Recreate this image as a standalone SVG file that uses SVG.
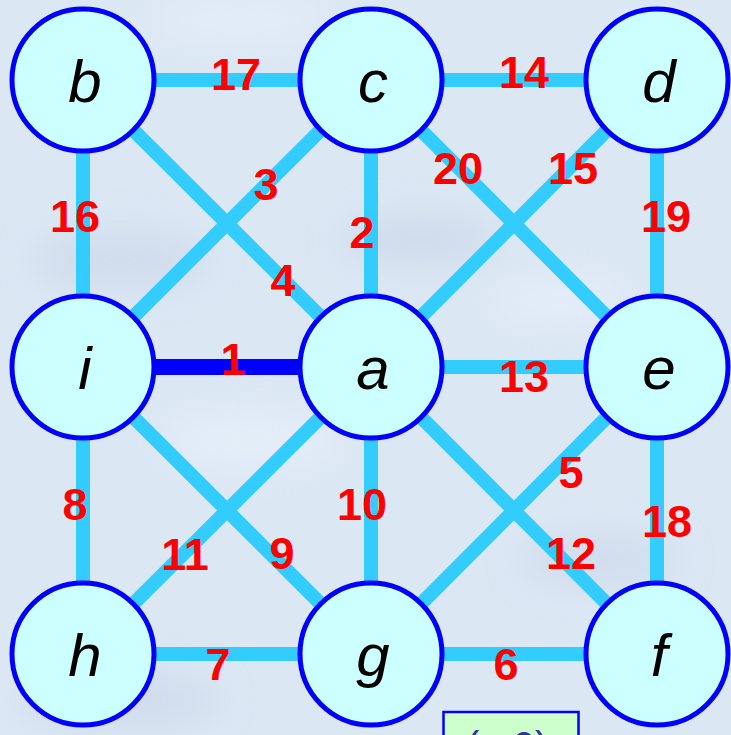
<svg xmlns="http://www.w3.org/2000/svg" width="731" height="735" viewBox="0 0 731 735">
<defs>
<style>
.e{stroke:#33CCFF;stroke-width:14;fill:none}
.h{stroke:#0000FF;stroke-width:16;fill:none}
.n circle,circle.n{fill:#CCFFFF;stroke:#0000FF;stroke-width:5}
.lt{font-family:"Liberation Sans",Arial,sans-serif;font-style:italic;font-size:60px;fill:#000;text-anchor:middle}
.w{font-family:"Liberation Sans",Arial,sans-serif;font-weight:bold;font-size:45px;fill:#FF0000;text-anchor:middle}
</style>
<filter id="blur" x="-50%" y="-50%" width="200%" height="200%"><feGaussianBlur stdDeviation="18"/></filter>
</defs>
<rect x="0" y="0" width="731" height="735" fill="#DCE7F4"/>
<g filter="url(#blur)" opacity="0.6">
<ellipse cx="120" cy="260" rx="90" ry="30" fill="#C8D6E8"/>
<ellipse cx="420" cy="240" rx="80" ry="25" fill="#C6D4E6"/>
<ellipse cx="250" cy="440" rx="90" ry="28" fill="#EAF2FC"/>
<ellipse cx="560" cy="300" rx="70" ry="22" fill="#EAF2FC"/>
<ellipse cx="120" cy="700" rx="100" ry="30" fill="#C8D6E8"/>
<ellipse cx="600" cy="560" rx="80" ry="25" fill="#C8D6E8"/>
<ellipse cx="240" cy="20" rx="90" ry="20" fill="#EAF2FC"/>
</g>
<g id="connectors">
<line class="e" x1="83" y1="80" x2="371" y2="80"/>
<line class="e" x1="371" y1="80" x2="657" y2="80"/>
<line class="e" x1="83" y1="80" x2="83" y2="367"/>
<line class="e" x1="371" y1="80" x2="371" y2="367"/>
<line class="e" x1="657" y1="80" x2="657" y2="367"/>
<line class="e" x1="83" y1="80" x2="371" y2="367"/>
<line class="e" x1="371" y1="80" x2="83" y2="367"/>
<line class="e" x1="371" y1="80" x2="657" y2="367"/>
<line class="e" x1="657" y1="80" x2="371" y2="367"/>
<line class="h" x1="83" y1="367" x2="371" y2="367"/>
<line class="e" x1="371" y1="367" x2="657" y2="367"/>
<line class="e" x1="83" y1="367" x2="83" y2="654"/>
<line class="e" x1="371" y1="367" x2="371" y2="654"/>
<line class="e" x1="657" y1="367" x2="657" y2="654"/>
<line class="e" x1="371" y1="367" x2="83" y2="654"/>
<line class="e" x1="83" y1="367" x2="371" y2="654"/>
<line class="e" x1="371" y1="367" x2="657" y2="654"/>
<line class="e" x1="657" y1="367" x2="371" y2="654"/>
<line class="e" x1="83" y1="654" x2="371" y2="654"/>
<line class="e" x1="371" y1="654" x2="657" y2="654"/>
</g>
<g id="weights">
<text class="w" x="236" y="90">17</text>
<text class="w" x="524" y="88">14</text>
<text class="w" x="75" y="232">16</text>
<text class="w" x="266" y="200">3</text>
<text class="w" x="362" y="248">2</text>
<text class="w" x="283" y="296">4</text>
<text class="w" x="458" y="184">20</text>
<text class="w" x="573" y="184">15</text>
<text class="w" x="666" y="232">19</text>
<text class="w" x="233" y="375">1</text>
<text class="w" x="524" y="392">13</text>
<text class="w" x="75" y="520">8</text>
<text class="w" x="362" y="520">10</text>
<text class="w" x="185" y="570">11</text>
<text class="w" x="282" y="569">9</text>
<text class="w" x="571" y="488">5</text>
<text class="w" x="571" y="569">12</text>
<text class="w" x="667" y="537">18</text>
<text class="w" x="218" y="680">7</text>
<text class="w" x="506" y="680">6</text>
</g>
<g id="node-b" class="n"><circle cx="83" cy="80" r="71"/><text class="lt" x="85" y="102">b</text></g>
<g id="node-c" class="n"><circle cx="371" cy="80" r="71"/><text class="lt" x="373" y="102">c</text></g>
<g id="node-d" class="n"><circle cx="657" cy="80" r="71"/><text class="lt" x="659" y="102">d</text></g>
<g id="node-i" class="n"><circle cx="83" cy="367" r="71"/><text class="lt" x="85" y="389">i</text></g>
<g id="node-a" class="n"><circle cx="371" cy="367" r="71"/><text class="lt" x="373" y="389">a</text></g>
<g id="node-e" class="n"><circle cx="657" cy="367" r="71"/><text class="lt" x="659" y="389">e</text></g>
<g id="node-h" class="n"><circle cx="83" cy="654" r="71"/><text class="lt" x="85" y="676">h</text></g>
<g id="node-g" class="n"><circle cx="371" cy="654" r="71"/><text class="lt" x="373" y="676">g</text></g>
<g id="node-f" class="n"><circle cx="657" cy="654" r="71"/><text class="lt" x="659" y="676">f</text></g>
<g id="box">
<rect x="443.5" y="712" width="135" height="40" fill="#CCFFCC" stroke="#0000FF" stroke-width="2.5"/>
<text x="466" y="760" font-family="Liberation Sans, Arial, sans-serif" font-size="40" fill="#333399">(a,0)</text>
</g>
</svg>
